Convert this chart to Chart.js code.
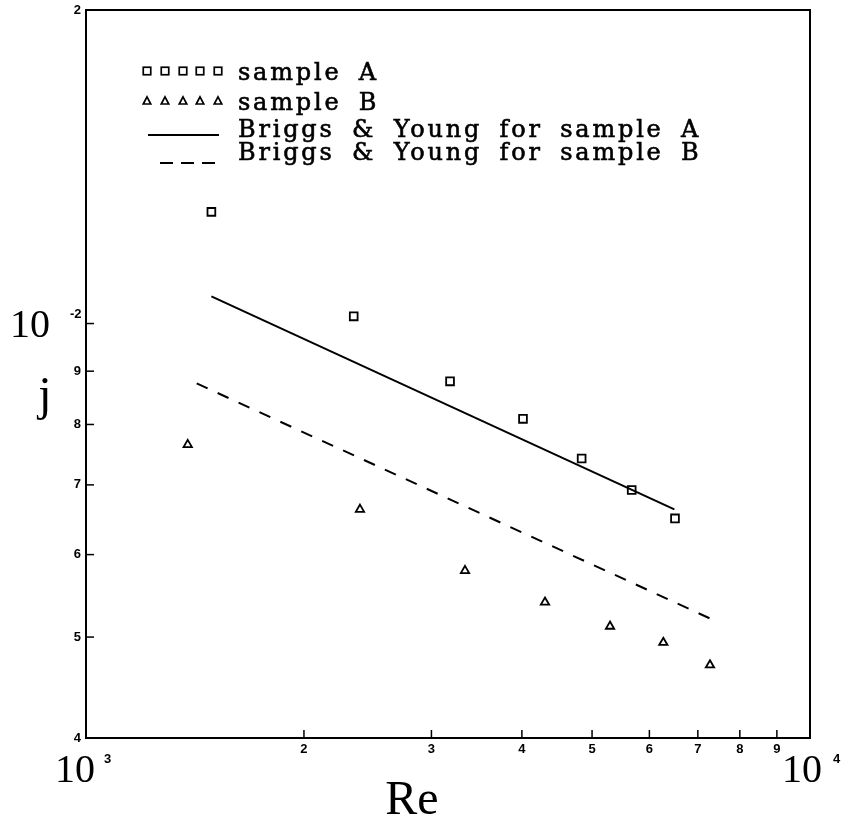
<!DOCTYPE html>
<html lang="en">
<head>
  <meta charset="UTF-8" />
  <title>j vs Re</title>
  <script src="https://cdn.jsdelivr.net/npm/chart.js"></script>
  <style>
    body { margin: 0; background: #fff; }
    #chart { display: block; }
  </style>
</head>
<body>
  <canvas id="chart" width="841" height="823"></canvas>

  <script>
    // sample A (squares)
    const reA = [1490, 2343, 3183, 4014, 4837, 5672, 6509];
    const jA  = [0.01280, 0.01016, 0.00880, 0.00810, 0.00742, 0.00692, 0.00650];
    // sample B (triangles)
    const reB = [1382, 2390, 3338, 4305, 5294, 6272, 7275];
    const jB  = [0.00765, 0.00663, 0.00579, 0.00540, 0.00512, 0.00494, 0.00470];
    // Briggs & Young lines (end points)
    const fitAre = [1490, 6496];
    const fitAj  = [0.01062, 0.00663];
    const fitBre = [1422, 7275];
    const fitBj  = [0.00876, 0.00521];

    // axis ticks
    const xTicks = [2000, 3000, 4000, 5000, 6000, 7000, 8000, 9000];
    const xTickLabels = ["2", "3", "4", "5", "6", "7", "8", "9"];
    const yTicks = [0.004, 0.005, 0.006, 0.007, 0.008, 0.009, 0.02];
    const yTickLabels = ["4", "5", "6", "7", "8", "9", "2"];

    const legendLabels = [
      "sample A",
      "sample B",
      "Briggs & Young for sample A",
      "Briggs & Young for sample B"
    ];

    const pts = (xs, ys) => xs.map((x, i) => ({ x: x, y: ys[i] }));

    function drawSquare(ctx, x, y, s) {
      ctx.strokeRect(x - s / 2, y - s / 2, s, s);
    }
    function drawTri(ctx, x, y, s) {
      ctx.beginPath();
      ctx.moveTo(x, y - s * 0.55);
      ctx.lineTo(x + s / 2, y + s * 0.4);
      ctx.lineTo(x - s / 2, y + s * 0.4);
      ctx.closePath();
      ctx.stroke();
    }

    const decor = {
      id: "decor",
      beforeDraw(chart) {
        const ctx = chart.ctx;
        ctx.save();
        ctx.fillStyle = "#fff";
        ctx.fillRect(0, 0, chart.width, chart.height);
        ctx.restore();
      },
      afterDraw(chart) {
        const ctx = chart.ctx;
        const a = chart.chartArea;
        const xs = chart.scales.x, ys = chart.scales.y;
        ctx.save();
        ctx.strokeStyle = "#000";
        ctx.fillStyle = "#000";

        // frame
        ctx.lineWidth = 2;
        ctx.strokeRect(a.left, a.top, a.right - a.left, a.bottom - a.top);

        // inward ticks
        ctx.lineWidth = 1.5;
        xTicks.forEach(v => {
          const px = xs.getPixelForValue(v);
          ctx.beginPath();
          ctx.moveTo(px, a.bottom);
          ctx.lineTo(px, a.bottom - 8);
          ctx.stroke();
        });
        yTicks.concat([0.01]).forEach(v => {
          const py = ys.getPixelForValue(v);
          ctx.beginPath();
          ctx.moveTo(a.left, py);
          ctx.lineTo(a.left + 8, py);
          ctx.stroke();
        });

        // small tick labels
        ctx.font = "bold 13px 'Liberation Sans', Arial, sans-serif";
        ctx.textAlign = "center";
        ctx.textBaseline = "middle";
        xTicks.forEach((v, i) => {
          ctx.fillText(xTickLabels[i], xs.getPixelForValue(v), a.bottom + 11);
        });
        ctx.textAlign = "right";
        yTicks.forEach((v, i) => {
          ctx.fillText(yTickLabels[i], a.left - 5, ys.getPixelForValue(v));
        });

        // powers of ten
        function pow10(x, y, exp, gap) {
          ctx.font = "40px 'Liberation Serif', 'Times New Roman', serif";
          ctx.textAlign = "left";
          ctx.textBaseline = "alphabetic";
          ctx.fillText("10", x, y);
          const w = ctx.measureText("10").width;
          ctx.font = "bold 13px 'Liberation Sans', Arial, sans-serif";
          ctx.fillText(exp, x + w + gap, y - 19);
        }
        pow10(xs.getPixelForValue(1000) - 31, a.bottom + 44, "3", 9);
        pow10(xs.getPixelForValue(10000) - 28, a.bottom + 44, "4", 11);
        pow10(10, ys.getPixelForValue(0.01) + 13, "-2", 20);

        // axis titles
        ctx.font = "48px 'Liberation Serif', 'Times New Roman', serif";
        ctx.textAlign = "center";
        ctx.textBaseline = "alphabetic";
        ctx.fillText("Re", 412, a.bottom + 76);
        ctx.fillText("j", 45, 410);

        // legend
        const mx = [147, 165, 183, 200, 218];
        ctx.lineWidth = 1.7;
        mx.forEach(x => drawSquare(ctx, x, 71, 7.5));
        mx.forEach(x => drawTri(ctx, x, 101, 7.5));
        ctx.lineWidth = 1.8;
        ctx.beginPath();
        ctx.moveTo(148, 135);
        ctx.lineTo(219, 135);
        ctx.stroke();
        ctx.setLineDash([13, 8]);
        ctx.beginPath();
        ctx.moveTo(160, 163);
        ctx.lineTo(220, 163);
        ctx.stroke();
        ctx.setLineDash([]);

        ctx.font = "24px 'DejaVu Serif', serif";
        ctx.textAlign = "left";
        ctx.textBaseline = "alphabetic";
        ctx.letterSpacing = "2.8px";
        ctx.wordSpacing = "7px";
        ctx.lineWidth = 0.6;
        const base = [80, 110, 137, 160];
        legendLabels.forEach((t, i) => {
          ctx.fillText(t, 238, base[i]);
          ctx.strokeText(t, 238, base[i]);
        });
        ctx.restore();
      }
    };

    new Chart(document.getElementById("chart"), {
      type: "scatter",
      data: {
        datasets: [
          {
            label: legendLabels[0],
            data: pts(reA, jA),
            pointStyle: "rect",
            radius: 5.5,
            borderColor: "#000",
            backgroundColor: "rgba(0,0,0,0)",
            borderWidth: 1.8
          },
          {
            label: legendLabels[1],
            data: pts(reB, jB),
            pointStyle: "triangle",
            radius: 4.8,
            borderColor: "#000",
            backgroundColor: "rgba(0,0,0,0)",
            borderWidth: 1.8
          },
          {
            label: legendLabels[2],
            data: pts(fitAre, fitAj),
            showLine: true,
            pointRadius: 0,
            borderColor: "#000",
            borderWidth: 2
          },
          {
            label: legendLabels[3],
            data: pts(fitBre, fitBj),
            showLine: true,
            pointRadius: 0,
            borderColor: "#000",
            borderWidth: 2,
            borderDash: [12, 11]
          }
        ]
      },
      options: {
        responsive: false,
        animation: false,
        layout: { padding: { top: 10, right: 31, left: 0, bottom: 0 } },
        plugins: {
          legend: { display: false },
          tooltip: { enabled: false }
        },
        scales: {
          x: {
            type: "logarithmic",
            min: 1000,
            max: 10000,
            ticks: { display: false },
            grid: { display: false },
            border: { display: false },
            afterFit: s => { s.height = 85; }
          },
          y: {
            type: "logarithmic",
            min: 0.004,
            max: 0.02,
            ticks: { display: false },
            grid: { display: false },
            border: { display: false },
            afterFit: s => { s.width = 86; }
          }
        }
      },
      plugins: [decor]
    });
  </script>
</body>
</html>
